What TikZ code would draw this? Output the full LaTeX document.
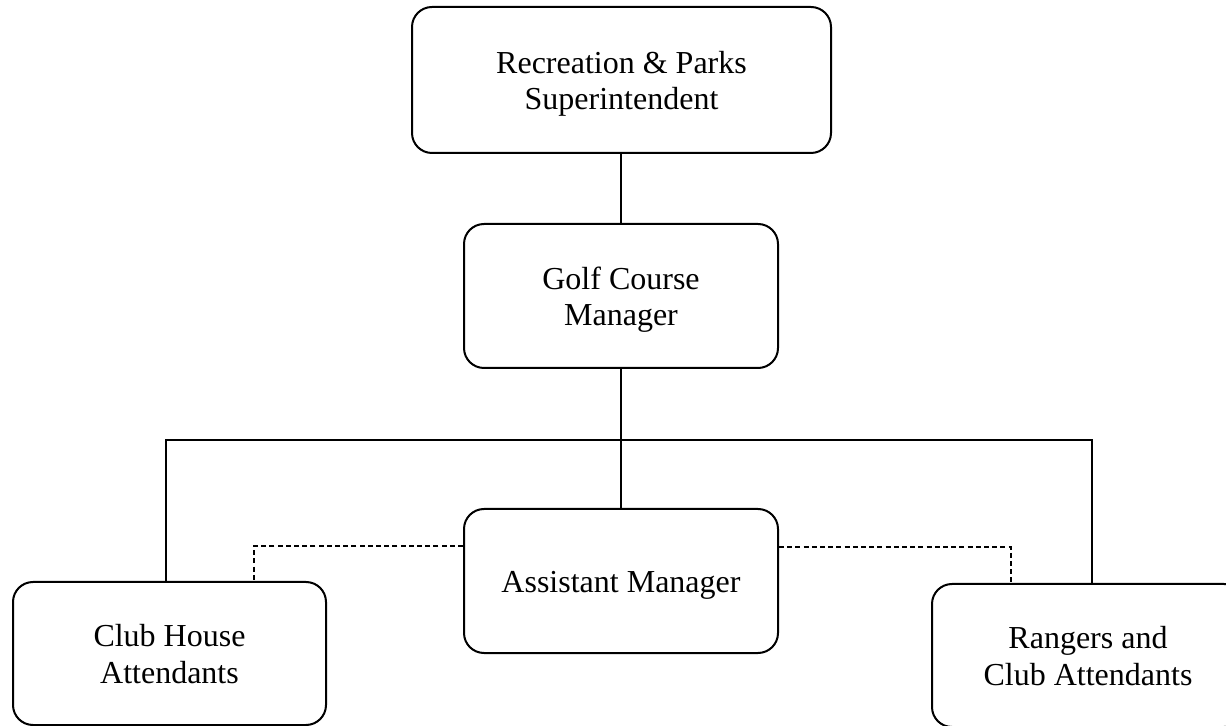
\documentclass[tikz,border=0pt]{standalone}
\usepackage{fontspec}
\setmainfont{Liberation Serif}
\newcommand\boxtext[1]{\raisebox{-2pt}[\height][\depth]{\begin{tabular}{@{}c@{}}#1\end{tabular}}}
\begin{document}
\begin{tikzpicture}[x=0.5pt,y=-0.5pt,
  box/.style={draw, line width=1pt, rounded corners=10pt,
    inner sep=0pt, font=\fontsize{16}{18.3}\selectfont},
  link/.style={line width=1pt},
  dlink/.style={line width=0.8pt, dash pattern=on 2.5pt off 1.6pt}]
\useasboundingbox (0,0) rectangle (1226,726);
\clip (0,0) rectangle (1226,726);
\fill[white] (0,0) rectangle (1226,726);
\node[box, minimum width=209.5pt, minimum height=73pt] (top) at (621.5,80) {\boxtext{Recreation \& Parks\\Superintendent}};
\node[box, minimum width=157pt, minimum height=72pt] (gcm) at (621,296) {\boxtext{Golf Course\\Manager}};
\node[box, minimum width=157pt, minimum height=72pt] (asst) at (621,581) {\boxtext{Assistant Manager}};
\node[box, minimum width=156.5pt, minimum height=71.5pt] (club) at (169.5,653.5) {\boxtext{Club House\\Attendants}};
\node[box, minimum width=156pt, minimum height=71.5pt] (rang) at (1088,655.5) {\boxtext{Rangers and\\Club Attendants}};
\coordinate (hl) at (166,440);
\coordinate (hr) at (1092,440);
\coordinate (dl) at (254,546);
\coordinate (dr) at (1011,547);
\draw[link] (top.south -| gcm.north) -- (gcm.north);
\draw[link] (gcm.south) -- (asst.north);
\draw[link] (hl |- club.north) -- (hl) -- (hr) -- (hr |- rang.north);
\draw[dlink] (asst.west |- dl) -- (dl) -- (dl |- club.north);
\draw[dlink] (asst.east |- dr) -- (dr) -- (dr |- rang.north);
\end{tikzpicture}
\end{document}
